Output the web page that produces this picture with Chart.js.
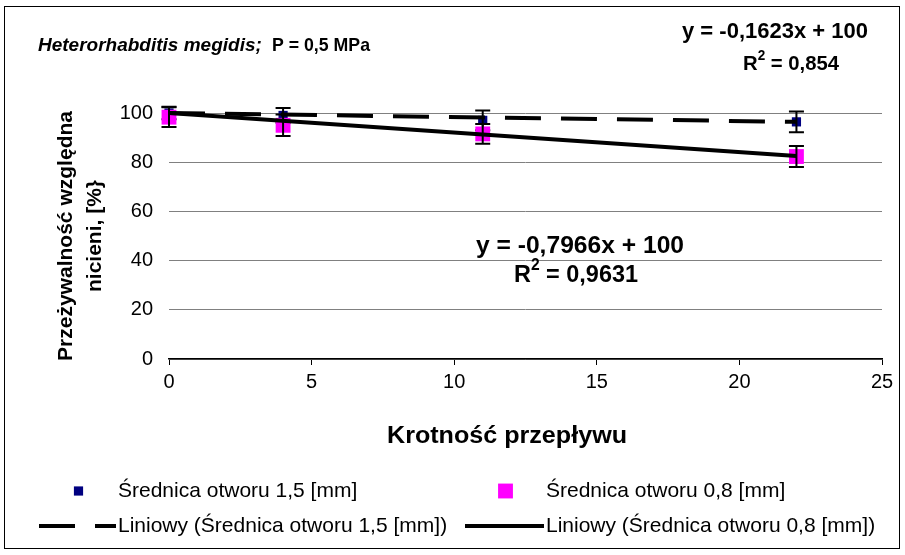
<!DOCTYPE html>
<html>
<head>
<meta charset="utf-8">
<script src="https://cdn.jsdelivr.net/npm/chart.js@4/dist/chart.umd.min.js"></script>
<style>
  body { margin: 0; background: #fff; }
</style>
</head>
<body>
<canvas id="myChart" width="905" height="555"></canvas>
<script>
/* DATA */

const flowCounts = [0, 4, 11, 22];                 // Krotność przepływu
const survival15 = [100, 99, 97, 96.4];            // Średnica otworu 1,5 [mm]
const error15 = [2.5, 3, 4, 4.2];
const survival08 = [98.3, 95, 91.5, 82.3];         // Średnica otworu 0,8 [mm]
const error08 = [4, 4.4, 4, 4.3];
const trendX = [0, 22];
const trend15 = [100, 96.4];                       // y = -0,1623x + 100
const trend08 = [100, 82.5];                       // y = -0,7966x + 100
const xTicks = [0, 5, 10, 15, 20, 25];
const yTicks = [0, 20, 40, 60, 80, 100];

const FONT = "'Liberation Sans', Arial, sans-serif";

function points(xs, ys) {
  return xs.map((x, i) => ({ x: x, y: ys[i] }));
}

/* TEXT HELPERS */

// draws text, optionally squeezed/stretched to a given width
function text(ctx, str, x, y, font, align, width) {
  ctx.save();
  ctx.font = font;
  ctx.fillStyle = '#000';
  ctx.textBaseline = 'middle';
  const w = ctx.measureText(str).width;
  const k = width ? width / w : 1;
  let left = x;
  if (align === 'center') left = x - (w * k) / 2;
  if (align === 'right') left = x - w * k;
  ctx.translate(left, y);
  ctx.scale(k, 1);
  ctx.fillText(str, 0, 0);
  ctx.restore();
}

// "R² = ..." centred on cx
function rSquared(ctx, value, cx, y, size, width) {
  ctx.save();
  ctx.fillStyle = '#000';
  ctx.textBaseline = 'middle';
  const big = 'bold ' + size + 'px ' + FONT;
  const small = 'bold ' + Math.round(size * 0.65) + 'px ' + FONT;
  ctx.font = big;
  const wR = ctx.measureText('R').width;
  const wRest = ctx.measureText(' = ' + value).width;
  ctx.font = small;
  const w2 = ctx.measureText('2').width;
  const total = wR + w2 + wRest;
  const k = width ? width / total : 1;
  ctx.translate(cx - total * k / 2, y);
  ctx.scale(k, 1);
  ctx.font = big;
  ctx.fillText('R', 0, 0);
  ctx.font = small;
  ctx.fillText('2', wR, -size * 0.38);
  ctx.font = big;
  ctx.fillText(' = ' + value, wR + w2, 0);
  ctx.restore();
}

/* ERROR BARS, DRAWN RIGHT AFTER THEIR OWN SERIES */

const errorBars = {
  id: 'errorBars',
  afterDatasetDraw(chart, args) {
    const ds = chart.data.datasets[args.index];
    if (!ds.errors) return;
    const ctx = chart.ctx;
    const xs = chart.scales.x, ys = chart.scales.y;
    ctx.save();
    ctx.strokeStyle = '#000';
    ctx.lineWidth = 2;
    ds.data.forEach((p, i) => {
      const px = xs.getPixelForValue(p.x);
      const top = ys.getPixelForValue(p.y + ds.errors[i]);
      const bot = ys.getPixelForValue(p.y - ds.errors[i]);
      ctx.beginPath();
      ctx.moveTo(px, top); ctx.lineTo(px, bot);
      ctx.moveTo(px - 7.5, top); ctx.lineTo(px + 7.5, top);
      ctx.moveTo(px - 7.5, bot); ctx.lineTo(px + 7.5, bot);
      ctx.stroke();
    });
    ctx.restore();
  }
};

/* TITLES, EQUATIONS, LEGEND AND FRAME */

const decorations = {
  id: 'decorations',
  afterDraw(chart) {
    const ctx = chart.ctx;
    const area = chart.chartArea;

    // frame
    ctx.save();
    ctx.strokeStyle = '#000';
    ctx.lineWidth = 1;
    ctx.strokeRect(4.5, 6.5, 895, 542);
    ctx.restore();

    // title
    text(ctx, 'Heterorhabditis megidis;', 38, 46, 'italic bold 19px ' + FONT);
    text(ctx, 'P = 0,5 MPa', 272, 46, 'bold 19px ' + FONT, 'left', 98);

    // trend equations
    text(ctx, 'y = -0,1623x + 100', 775, 32, 'bold 22px ' + FONT, 'center', 186);
    rSquared(ctx, '0,854', 791, 64, 21, 96);
    text(ctx, 'y = -0,7966x + 100', 580, 246, 'bold 24px ' + FONT, 'center', 208);
    rSquared(ctx, '0,9631', 576, 275, 24, 124);

    // axis titles
    text(ctx, 'Krotność przepływu', 507, 437, 'bold 23px ' + FONT, 'center', 240);
    ctx.save();
    ctx.translate(0, (area.top + area.bottom) / 2);
    ctx.rotate(-Math.PI / 2);
    text(ctx, 'Przeżywalność względna', 0, 66, 'bold 21px ' + FONT, 'center', 250);
    text(ctx, 'nicieni, [%}', 0, 95, 'bold 21px ' + FONT, 'center');
    ctx.restore();

    // legend
    const ds = chart.data.datasets;
    const rows = [491, 526];
    const cols = [{ sym: 39, text: 118 }, { sym: 465, text: 546 }];
    const items = [
      { d: ds[3], row: 0, col: 0 },
      { d: ds[2], row: 0, col: 1 },
      { d: ds[0], row: 1, col: 0 },
      { d: ds[1], row: 1, col: 1 }
    ];
    items.forEach(it => {
      const y = rows[it.row];
      const c = cols[it.col];
      const d = it.d;
      ctx.save();
      if (d.showLine) {
        ctx.strokeStyle = d.borderColor;
        ctx.lineWidth = d.borderWidth;
        ctx.setLineDash(d.borderDash || []);
        ctx.beginPath();
        ctx.moveTo(c.sym, y);
        ctx.lineTo(c.text - 2, y);
        ctx.stroke();
      } else {
        const s = d.pointRadius * Math.SQRT2;
        ctx.fillStyle = d.backgroundColor;
        ctx.fillRect((c.sym + c.text) / 2 - s / 2, y - s / 2, s, s);
      }
      ctx.restore();
      text(ctx, d.label, c.text, y, '21px ' + FONT);
    });
  }
};

/* CHART */

const ctx = document.getElementById('myChart').getContext('2d');
const myChart = new Chart(ctx, {
  type: 'scatter',
  data: {
    datasets: [
      {
        label: 'Liniowy (Średnica otworu 1,5 [mm])',
        data: points(trendX, trend15),
        showLine: true,
        borderColor: '#000',
        borderWidth: 4,
        borderDash: [36, 20],
        pointRadius: 0,
        clip: false,
        order: 0
      },
      {
        label: 'Liniowy (Średnica otworu 0,8 [mm])',
        data: points(trendX, trend08),
        showLine: true,
        borderColor: '#000',
        borderWidth: 4,
        pointRadius: 0,
        clip: false,
        order: 0
      },
      {
        label: 'Średnica otworu 0,8 [mm]',
        data: points(flowCounts, survival08),
        errors: error08,
        pointStyle: 'rect',
        pointRadius: 10.5,
        backgroundColor: '#ff00ff',
        borderWidth: 0,
        clip: false,
        order: 1
      },
      {
        label: 'Średnica otworu 1,5 [mm]',
        data: points(flowCounts, survival15),
        errors: error15,
        pointStyle: 'rect',
        pointRadius: 6.5,
        backgroundColor: '#000080',
        borderWidth: 0,
        clip: false,
        order: 2
      }
    ]
  },
  options: {
    responsive: false,
    animation: false,
    layout: { padding: { left: 0, top: 113, right: 23, bottom: 0 } },
    plugins: {
      legend: { display: false },
      tooltip: { enabled: false }
    },
    scales: {
      x: {
        type: 'linear',
        min: 0,
        max: 25,
        afterBuildTicks: scale => { scale.ticks = xTicks.map(v => ({ value: v })); },
        afterFit: scale => { scale.height = 196; },
        grid: { drawOnChartArea: false, drawTicks: true, tickLength: 6, color: '#000', lineWidth: 1 },
        border: { color: '#000', width: 1.5 },
        ticks: { color: '#000', font: { family: FONT, size: 20 }, padding: 5, maxRotation: 0 }
      },
      y: {
        type: 'linear',
        min: 0,
        max: 100,
        afterBuildTicks: scale => { scale.ticks = yTicks.map(v => ({ value: v })); },
        afterFit: scale => { scale.width = 169; },
        grid: { color: '#808080', lineWidth: 1, drawTicks: false },
        border: { display: false },
        ticks: { color: '#000', font: { family: FONT, size: 20 }, padding: 16 }
      }
    }
  },
  plugins: [errorBars, decorations]
});
</script>
</body>
</html>
